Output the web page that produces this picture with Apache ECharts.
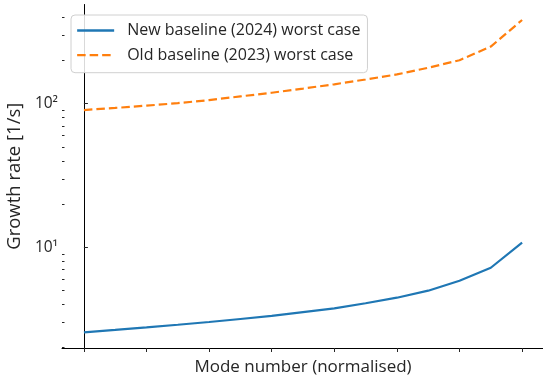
<!DOCTYPE html>
<html>
<head>
<meta charset="utf-8">
<script src="https://cdn.jsdelivr.net/npm/echarts@6/dist/echarts.min.js"></script>
<style>
  html, body { margin: 0; padding: 0; background: #fff; }
  #chart { width: 543px; height: 376px; }
</style>
</head>
<body>
<div id="chart"></div>
<script>
// Normalised mode index (0..14), ticks every second mode
const modeIndex = [0, 1, 2, 3, 4, 5, 6, 7, 8, 9, 10, 11, 12, 13, 14];
const xTickValues = [0, 2, 4, 6, 8, 10, 12, 14];

// Worst-case growth rates [1/s]
const newBaseline2024 = [2.56, 2.66, 2.77, 2.89, 3.02, 3.17, 3.33, 3.54, 3.76, 4.08, 4.46, 4.99, 5.85, 7.21, 10.8];
const oldBaseline2023 = [90.4, 93.5, 97.0, 101, 106, 112.5, 119.3, 127.5, 136.6, 147.5, 160, 178, 201, 250, 383];

// Log-axis ticks
const yMajorTicks = [10, 100];
const yMajorLabels = ['10¹', '10²'];
const yMinorTicks = [2, 3, 4, 5, 6, 7, 8, 9, 20, 30, 40, 50, 60, 70, 80, 90, 200, 300, 400];

const seriesNames = ['New baseline (2024) worst case', 'Old baseline (2023) worst case'];

const FONT = '"Open Sans"';
const TEXT = '#262626';

const pair = (xs, ys) => xs.map((x, i) => [x, ys[i]]);

const chart = echarts.init(document.getElementById('chart'), null, { renderer: 'canvas' });

chart.setOption({
  animation: false,
  backgroundColor: '#fff',
  grid: {
    left: 62, top: 4.5, width: 482, height: 343.5,
    containLabel: false, outerBoundsMode: 'none'
  },
  legend: {
    left: 71, top: 15,
    orient: 'vertical',
    data: seriesNames,
    itemWidth: 37, itemHeight: 14, itemGap: 7.7,
    padding: [7, 7, 9, 5],
    borderColor: '#d0d0d0', borderWidth: 1, borderRadius: 4,
    backgroundColor: 'rgba(255,255,255,0.85)',
    itemStyle: { opacity: 0 },
    lineStyle: { width: 2.3 },
    textStyle: { fontFamily: FONT, fontSize: 16, lineHeight: 17, color: TEXT, padding: [0, 0, 0, 8] }
  },
  xAxis: {
    type: 'value',
    min: -0.7, max: 14.7,
    name: 'Mode number (normalised)',
    nameLocation: 'middle', nameGap: 11,
    nameTextStyle: { fontFamily: FONT, fontSize: 17, color: TEXT },
    axisLine: { show: true, onZero: false, lineStyle: { color: '#000', width: 1 } },
    axisTick: { show: true, customValues: xTickValues, length: 4, inside: false, lineStyle: { color: TEXT } },
    axisLabel: { show: false },
    splitLine: { show: false }
  },
  yAxis: [
    {
      type: 'log', logBase: 10,
      min: 1.991, max: 491,
      name: 'Growth rate [1/s]',
      nameLocation: 'middle', nameGap: 30,
      nameRotate: 90,
      nameTextStyle: { fontFamily: FONT, fontSize: 18.5, color: TEXT },
      axisLine: { show: true, lineStyle: { color: '#000', width: 1 } },
      axisTick: { show: true, customValues: yMajorTicks, length: 4, inside: true, lineStyle: { color: TEXT } },
      axisLabel: {
        show: true, customValues: yMajorTicks, margin: 4,
        fontFamily: FONT, fontSize: 15.5, color: TEXT,
        formatter: v => yMajorLabels[yMajorTicks.indexOf(Math.round(v))]
      },
      splitLine: { show: false },
      minorTick: { show: false }
    },
    {
      type: 'log', logBase: 10,
      min: 1.991, max: 491,
      position: 'left',
      axisLine: { show: false },
      axisTick: { show: true, customValues: yMinorTicks, length: 2.5, inside: true, lineStyle: { color: TEXT } },
      axisLabel: { show: false },
      splitLine: { show: false }
    }
  ],
  series: [
    {
      name: seriesNames[0], type: 'line',
      data: pair(modeIndex, newBaseline2024),
      showSymbol: false, symbol: 'none',
      color: '#1f77b4',
      lineStyle: { color: '#1f77b4', width: 2.2 }
    },
    {
      name: seriesNames[1], type: 'line',
      data: pair(modeIndex, oldBaseline2023),
      showSymbol: false, symbol: 'none',
      color: '#ff7f0e',
      lineStyle: { color: '#ff7f0e', width: 2.2, type: [8.5, 4] }
    }
  ]
});
</script>
</body>
</html>
